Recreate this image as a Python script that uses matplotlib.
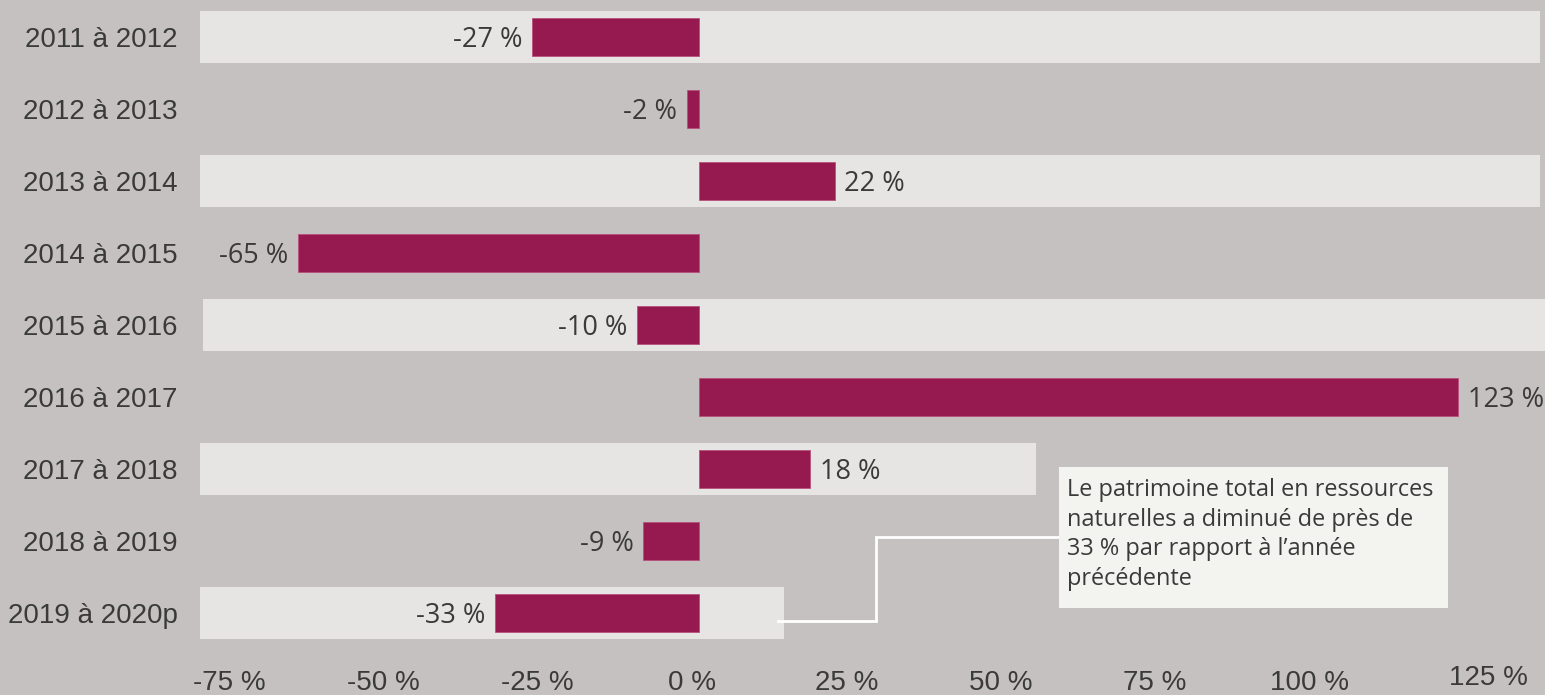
import matplotlib.pyplot as plt
from matplotlib.patches import Rectangle
from matplotlib.transforms import ScaledTranslation

periods = ['2011 à 2012', '2012 à 2013', '2013 à 2014', '2014 à 2015', '2015 à 2016',
           '2016 à 2017', '2017 à 2018', '2018 à 2019', '2019 à 2020p']
changes = [-27, -2, 22, -65, -10, 123, 18, -9, -33]
xticks = [-75, -50, -25, 0, 25, 50, 75, 100, 125]
xtick_labels = ['-75 %', '-50 %', '-25 %', '0 %', '25 %', '50 %', '75 %', '100 %', '125 %']
note = "Le patrimoine total en ressources\nnaturelles a diminué de près de\n33 % par rapport à l\u2019année\nprécédente"

# light bands behind every other row (rows, left edge, right edge)
band_rows = [0, 2, 4, 6, 8]
band_left = [-80.9, -80.9, -80.4, -80.9, -80.9]
band_right = [136.3, 136.3, 137.1, 54.6, 13.8]

bg = '#c5c1c0'
band_col = '#e7e5e3'
bar_col = '#961a50'
txt_col = '#3a3a3a'

W, H = 1545, 695
fig = plt.figure(figsize=(W / 100, H / 100), dpi=100, facecolor=bg)
ax = fig.add_axes([190 / W, 1 - 649 / H, (W - 190) / W, 648 / H], facecolor=bg)

ypos = list(range(len(periods)))
ax.barh(band_rows, [r - l for l, r in zip(band_left, band_right)], left=band_left,
        height=0.72, color=band_col, zorder=1)
ax.barh(ypos, changes, height=0.54, color=bar_col, edgecolor='#b8507c',
        linewidth=0.6, zorder=3)
for y, v in zip(ypos, changes):
    ax.annotate(f'{v} %', (v, y), xytext=(7 if v > 0 else -7, -2.5), textcoords='offset points',
                ha='left' if v > 0 else 'right', va='center', fontsize=19.5,
                family='Open Sans', color=txt_col, zorder=5)

ax.set_xlim((190 - 699) / 6.17, (W - 699) / 6.17)
ax.set_ylim(8.5, -0.5)
ax.set_yticks(ypos)
ax.set_yticklabels(periods, family='Liberation Sans', fontsize=20, color=txt_col)
ax.set_xticks(xticks)
ax.set_xticklabels(xtick_labels, family='Liberation Sans', fontsize=20, color=txt_col)
ax.tick_params(axis='y', length=0, pad=9)
ax.tick_params(axis='x', length=0, pad=15)
for s in ax.spines.values():
    s.set_visible(False)

# tick labels sit a little left of their ticks, the last one higher and to the right
tlabels = ax.get_xticklabels()
for lab in tlabels[:-1]:
    lab.set_transform(lab.get_transform() + ScaledTranslation(-0.07, 0, fig.dpi_scale_trans))
tlabels[-1].set_transform(tlabels[-1].get_transform()
                          + ScaledTranslation(0.18, 0.05, fig.dpi_scale_trans))

# callout box and connector
ax.plot([12.8, 28.7, 28.7, 58.3], [8.11, 8.11, 6.94, 6.94], color='white', lw=2, zorder=2,
        solid_joinstyle='miter')
ax.add_patch(Rectangle((58.3, 5.97), 121.4 - 58.3, 7.93 - 5.97, facecolor='#f3f4ef',
                       edgecolor='none', zorder=4))
ax.text(59.7, 6.13, note, family='Open Sans', fontsize=16.9, color=txt_col, va='top',
        ha='left', linespacing=1.3, zorder=5)

fig.savefig('out.png', dpi=100, facecolor=bg)
